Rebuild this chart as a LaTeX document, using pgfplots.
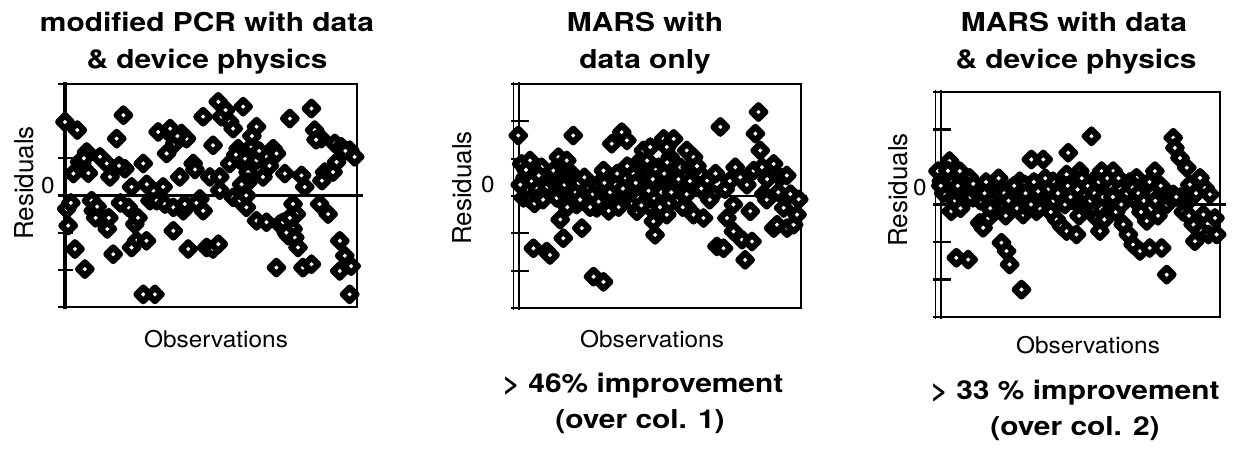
\documentclass[border=0pt]{standalone}
\usepackage{pgfplots}
\usepackage{pgfplotstable}
\pgfplotsset{compat=1.18}
\usepackage{fontspec}
\setmainfont{TeX Gyre Heros}
\newfontfamily\headfont[FakeStretch=1.15]{TeX Gyre Heros}
\newfontfamily\labelfont[FakeStretch=1.06]{TeX Gyre Heros}

% residuals of the three models (observation index, residual in tick units)
\pgfplotstableread{
x y
0 1.98
4.2 1.76
2.9 0.59
0.6 -0.36
1.1 -0.81
3.4 -1.44
6.8 -1.98
7.4 1.17
5.7 0.86
9.1 -0.14
9.7 -0.41
12.0 -0.54
12.0 1.04
14.3 0.86
15.4 0.5
13.1 -0.68
16.5 -1.58
17.7 1.53
20.0 2.16
20.5 0.72
22.8 0.23
21.7 -0.32
23.9 -0.77
24.5 -1.22
22.8 -1.40
26.8 -2.66
30.8 -2.66
26.8 0.86
29.1 -0.14
27.9 -1.22
31.9 1.71
33.6 0.23
31.4 -0.14
34.2 -0.23
37.1 -0.95
35.9 1.67
37.6 1.40
34.8 1.13
39.9 1.67
41.6 1.53
37.1 -0.32
40.5 -0.41
41.0 -0.23
39.3 0.50
42.2 -1.44
43.9 0.86
46.2 -0.09
47.3 -0.41
47.3 2.12
49.6 0.50
50.7 1.35
48.5 -1.40
50.7 -1.44
52.5 -1.31
52.5 2.52
53.6 2.12
56.4 1.98
57.6 1.80
53.0 0.50
53.0 0.14
56.4 0.86
57.6 -0.05
59.3 1.26
59.9 0.95
59.9 -0.14
62.1 0.0
61.6 0.99
61.0 2.39
63.9 1.31
65.6 1.85
65.6 0.95
62.7 0.63
62.7 0.36
62.1 -0.32
65.6 -0.68
69.0 -0.72
67.8 0.50
71.3 1.26
72.4 -1.94
72.4 1.13
73.5 -0.77
75.3 0.59
74.7 -0.72
76.4 -1.08
77.0 2.07
78.1 -0.23
78.1 -0.90
79.2 -0.50
78.7 -1.13
81.0 0.54
81.5 -1.94
82.1 0.23
84.4 2.34
84.4 -1.85
85.5 1.76
87.2 -0.23
87.8 1.53
88.9 0.63
90.1 -0.50
91.8 0.63
92.4 1.40
94.1 -1.22
94.6 1.31
94.1 -2.03
95.8 -1.62
97.5 1.22
97.5 -2.66
99.2 1.04
2.0 -0.2
5.0 0.9
6.5 1.0
8.0 0.6
10.5 -0.6
11.0 -0.3
14.5 -0.9
15.0 -0.6
18.5 0.8
19.0 -0.2
25.0 -0.6
28.0 0.3
36.0 1.8
38.5 1.6
44.5 0.7
45.0 -0.2
55.0 2.3
58.5 1.1
60.5 0.3
64.0 1.6
66.5 1.2
70.0 0.8
75.8 -1.0
77.0 -0.6
79.8 -1.4
86.0 1.5
88.0 0.4
93.0 0.9
96.0 1.2
98.0 -1.9
}\residPCR

\pgfplotstableread{
x y
0.8 1.62
2.0 0.86
4.9 0.95
3.2 0.50
2.6 -0.05
4.9 -0.09
6.1 -1.40
9.0 0.77
8.4 0.32
10.8 -1.49
11.9 -1.58
11.9 0.50
13.1 0.68
14.9 1.04
16.6 0.59
17.8 0.95
19.6 0.59
14.3 -0.05
18.4 0.05
20.1 1.62
15.5 -0.63
16.6 -1.13
23.1 -0.86
21.3 -0.23
23.7 0.32
24.8 -0.05
27.2 -2.16
30.7 -2.30
28.3 -0.32
30.7 0.68
31.9 -0.05
34.2 -0.23
33.6 1.40
37.1 1.71
36.5 -0.14
38.3 0.50
38.9 1.49
39.5 -0.09
41.2 0.59
42.4 -0.41
43.6 0.14
43.6 0.95
44.7 1.22
47.1 1.31
45.9 0.59
46.5 0.14
48.2 -0.68
48.8 -1.04
49.4 0.32
50.0 0.77
51.8 1.53
52.9 1.31
54.1 1.04
55.3 1.53
51.8 -0.14
52.9 -0.50
55.3 0.32
56.4 -0.14
57.6 0.77
59.9 1.22
61.1 0.77
62.3 1.04
59.9 0.05
64.6 0.59
62.3 -0.50
65.8 -0.59
67.0 0.41
69.3 0.05
70.5 -1.35
72.8 -1.40
71.7 1.85
73.4 0.18
74.0 -0.59
76.3 -0.23
76.3 -0.95
76.9 0.77
78.7 0.50
79.3 -1.17
80.4 -1.71
82.2 -0.41
82.8 -1.22
83.4 0.68
85.1 2.25
84.0 1.67
85.7 1.22
86.3 0.77
86.9 0.05
88.1 0.45
90.4 0.86
90.4 -0.86
91.6 -0.77
92.7 0.50
93.9 -0.32
95.1 -0.86
96.3 0.05
97.4 -0.77
98.6 -0.50
99.2 -0.09
5.5 0.4
7.5 0.2
10.0 0.1
12.5 0.2
16.0 0.15
19.0 0.25
21.0 0.1
22.5 -0.1
25.5 0.2
27.0 0.05
29.0 -0.15
30.0 0.15
33.0 0.1
35.0 0.3
36.0 -0.3
40.0 0.2
41.0 -0.2
43.0 -0.05
45.0 0.4
47.0 -0.3
49.0 0.7
51.0 0.1
52.0 0.6
53.5 -0.2
56.0 0.5
58.0 0.3
60.0 -0.3
63.0 0.3
66.0 0.1
68.0 -0.1
1.5 0.3
3.5 0.7
6.5 -0.2
8.0 0.55
9.5 -0.1
11.0 0.25
13.5 0.35
15.5 0.4
17.0 0.3
18.0 -0.3
20.0 0.4
22.0 0.35
24.0 0.5
26.0 -0.3
28.5 0.3
31.0 0.35
32.5 -0.4
35.5 0.6
37.5 0.2
39.0 0.8
42.0 0.35
44.0 -0.25
46.0 0.95
48.0 0.45
50.5 -0.3
53.0 0.9
54.5 0.1
57.0 0.45
58.5 -0.3
61.0 0.4
63.5 0.8
65.0 0.2
70.0 0.6
75.0 0.4
81.0 0.3
88.0 -0.1
92.0 0.1
95.0 0.55
}\residMARSdata

\pgfplotstableread{
x y
0 0.89
1.2 0.62
4.1 1.16
3.0 0.36
4.7 -0.18
7.7 0.89
8.9 0.53
11.2 0.71
6.5 -1.42
10.7 -1.47
13.6 0.44
12.4 0.18
14.8 -0.49
16.0 -0.62
17.8 -0.36
18.3 0.44
20.7 0.53
21.3 0.22
22.5 -1.02
24.3 -1.24
25.4 -1.60
29.6 -2.27
23.1 0.0
26.0 0.44
27.8 0.09
29.0 0.62
30.8 0.53
30.2 -0.27
31.4 0.09
33.1 1.2
37.3 1.2
33.7 0.27
34.9 -0.18
37.3 0.18
38.5 0.0
40.8 0.62
42.0 -0.4
43.8 -0.58
45.6 -0.71
46.2 1.38
45.6 0.8
47.9 0.53
49.1 -0.8
50.3 0.89
51.5 -0.18
52.1 0.27
54.4 1.82
55.0 0.62
56.2 -0.36
57.4 -0.71
58.0 0.89
59.8 0.44
60.9 -0.18
62.1 0.89
64.5 0.44
63.3 0.09
65.7 -0.53
67.5 -0.8
69.2 -1.07
71.6 -1.24
74.0 -0.44
75.1 -1.16
76.9 0.89
70.4 0.71
72.8 0.44
78.1 0.18
79.3 -1.16
81.1 -1.87
81.1 0.0
83.4 0.27
83.4 1.78
84.0 1.51
85.8 1.24
88.2 0.98
89.3 0.53
88.8 0.09
90.5 -0.53
91.1 -0.98
92.9 0.71
94.1 -0.27
93.5 -0.71
94.7 0.44
95.9 -0.8
96.4 0.27
98.2 -0.36
98.8 -0.8
2.0 0.3
5.0 0.6
6.0 0.1
9.0 0.2
10.0 0.5
13.0 0.3
15.0 0.1
17.0 0.6
19.0 0.1
20.0 -0.2
22.0 0.4
24.0 -0.3
26.0 0.3
28.0 -0.1
29.5 0.3
32.0 -0.1
34.0 0.6
36.0 -0.1
39.0 0.4
41.0 0.1
44.0 0.2
46.0 0.5
48.0 0.1
50.0 -0.3
53.0 0.5
56.0 0.1
57.0 0.6
59.0 -0.4
61.0 0.5
63.0 -0.2
66.0 0.2
68.0 0.6
70.0 0.1
72.0 -0.2
74.0 0.5
76.0 0.3
78.0 -0.3
80.0 0.4
82.0 0.2
86.0 0.2
87.0 -0.2
90.0 0.2
1.0 0.5
3.5 0.9
7.0 0.5
8.0 -0.1
11.5 0.2
12.5 0.55
14.0 0.3
16.5 0.3
18.5 -0.1
21.5 0.7
23.5 0.3
25.0 0.1
27.0 0.5
31.0 0.3
33.0 0.0
35.5 0.35
38.0 0.7
40.0 -0.2
42.5 0.3
45.0 0.0
47.0 0.2
49.5 0.4
51.0 0.7
54.0 0.1
55.5 0.3
58.5 0.2
60.0 0.7
62.0 0.2
64.0 0.7
65.0 0.0
67.0 0.3
69.0 0.45
71.0 0.3
73.0 0.1
75.0 0.6
77.0 0.1
79.0 0.5
84.5 0.2
89.0 -0.3
91.5 0.3
}\residMARSphys

\pgfplotsset{
  residpanel/.style={
    scale only axis, xmin=0, xmax=100, ymin=-3, ymax=3,
    enlargelimits=false, clip=false,
    xtick=\empty, ytick=\empty,
    axis line style={line width=1.6pt, black},
  },
  resmarks/.style={only marks, mark=square*, mark size=4.8pt, line width=6.2pt,
    mark options={rotate=45, draw=black, fill=white, line width=6.2pt, line join=round}},
  zeroline/.style={no marks, line width=2.6pt, black},
}

\newcommand{\headline}[1]{{\headfont\bfseries\fontsize{26}{30}\selectfont #1}}
\newcommand{\axlabel}[1]{{\labelfont\fontsize{23}{27}\selectfont #1}}
\newcommand{\residlabel}{{\fontsize{26}{30}\selectfont Residuals}}

\begin{document}
\begin{tikzpicture}
\path[use as bounding box] (0pt,0pt) rectangle (1233pt,-449pt);

% column 1: modified PCR
\begin{axis}[residpanel, width=292pt, height=223pt, at={(65pt,-307pt)}, anchor=south west]
  \addplot[zeroline] coordinates {(0,0) (102,0)};
  \addplot[resmarks] table {\residPCR};
  \draw[line width=4.5pt] (axis cs:0,-3.05) -- (axis cs:0,3.05);
  \pgfplotsinvokeforeach{-3,-2,-1,0,1,2,3}{
    \draw[line width=2.2pt] ([xshift=-7pt]axis cs:0,#1) -- ([xshift=8pt]axis cs:0,#1);}
\end{axis}

% column 2: MARS, data only
\begin{axis}[residpanel, width=285pt, height=224pt, at={(516pt,-308pt)}, anchor=south west]
  \addplot[zeroline] coordinates {(0,0) (102,0)};
  \addplot[resmarks] table {\residMARSdata};
  \draw[line width=1.9pt, double=white, double distance=3.2pt] (axis cs:0,-3.05) -- (axis cs:0,3.05);
  \pgfplotsinvokeforeach{-3,-2,-1,0,1,2,3}{
    \draw[line width=2.2pt] ([xshift=-5pt]axis cs:0,#1) -- ([xshift=13pt]axis cs:0,#1);}
\end{axis}

% column 3: MARS, data and device physics
\begin{axis}[residpanel, width=282pt, height=225pt, at={(938pt,-317pt)}, anchor=south west]
  \addplot[zeroline] coordinates {(0,0) (102,0)};
  \addplot[resmarks] table {\residMARSphys};
  \draw[line width=1.9pt, double=white, double distance=3.2pt] (axis cs:0,-3.05) -- (axis cs:0,3.05);
  \pgfplotsinvokeforeach{-3,-2,-1,0,1,2,3}{
    \draw[line width=2.2pt] ([xshift=-5pt]axis cs:0,#1) -- ([xshift=13pt]axis cs:0,#1);}
\end{axis}

% headings
\node[anchor=base] at (207pt,-32pt) {\headline{modified PCR with data}};
\node[anchor=base] at (207pt,-69pt) {\headline{\& device physics}};
\node[anchor=base] at (645pt,-32pt) {\headline{MARS with}};
\node[anchor=base] at (645pt,-69pt) {\headline{data only}};
\node[anchor=base] at (1074pt,-32pt) {\headline{MARS with data}};
\node[anchor=base] at (1076pt,-69pt) {\headline{\& device physics}};

% axis labels
\node[anchor=base] at (216pt,-347pt) {\axlabel{Observations}};
\node[anchor=base] at (652pt,-347pt) {\axlabel{Observations}};
\node[anchor=base] at (1088pt,-353pt) {\axlabel{Observations}};
\node[rotate=90] at (24pt,-183pt) {\residlabel};
\node[rotate=90] at (462pt,-188pt) {\residlabel};
\node[rotate=90] at (898pt,-190pt) {\residlabel};
\node at (48pt,-186pt) {\axlabel{0}};
\node at (488pt,-185pt) {\axlabel{0}};
\node at (920pt,-188pt) {\axlabel{0}};

% improvement notes
\node[anchor=base] at (643pt,-392pt) {\headline{> 46\% improvement}};
\node[anchor=base] at (640pt,-428pt) {\headline{(over col. 1)}};
\node[anchor=base] at (1075pt,-399pt) {\headline{> 33 \% improvement}};
\node[anchor=base] at (1075pt,-435pt) {\headline{(over col. 2)}};
\end{tikzpicture}
\end{document}
